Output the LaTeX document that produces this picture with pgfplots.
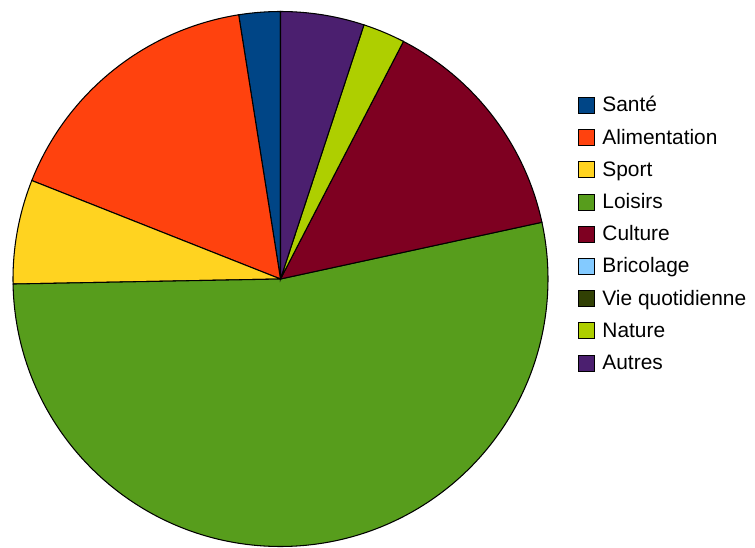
\documentclass[border=0pt]{standalone}
\usepackage{fontspec}
\setmainfont{Liberation Sans}
\usepackage{pgfplots}
\usepackage{pgfplotstable}
\pgfplotsset{compat=1.18}

\definecolor{cSante}{HTML}{004586}
\definecolor{cAlim}{HTML}{FF420E}
\definecolor{cSport}{HTML}{FFD320}
\definecolor{cLoisirs}{HTML}{579D1C}
\definecolor{cCulture}{HTML}{7E0021}
\definecolor{cBrico}{HTML}{83CAFF}
\definecolor{cVie}{HTML}{314004}
\definecolor{cNature}{HTML}{AECF00}
\definecolor{cAutres}{HTML}{4B1F6F}

% share of each category, in percent
\pgfplotstableread[col sep=comma]{
cat,val,col
Santé,2.5,cSante
Alimentation,16.5,cAlim
Sport,6.3,cSport
Loisirs,53.1,cLoisirs
Culture,14.0,cCulture
Bricolage,0,cBrico
Vie quotidienne,0,cVie
Nature,2.55,cNature
Autres,5.05,cAutres
}\piedata

\begin{document}
\begin{tikzpicture}
\begin{axis}[
    at={(0,0)}, anchor=south west,
    x=1cm, y=1cm,
    xmin=0, xmax=15.1, ymin=0, ymax=10.94,
    hide axis, clip=false,
    legend image code/.code={
        \draw[#1, line width=0.6pt] (0cm,-0.16cm) rectangle (0.32cm,0.16cm);
    },
    legend style={
        at={(axis cs:11.55,9.16)}, anchor=north west,
        draw=none, fill=none, inner sep=0pt,
        row sep=0pt, column sep=0.15cm,
        nodes={inner sep=0pt, text height=0.45cm, text depth=0.194cm,
               font=\fontsize{11.9}{13}\selectfont},
    },
    legend cell align=left,
]
\pgfplotstablegetrowsof{\piedata}
\pgfmathtruncatemacro\lastrow{\pgfplotsretval-1}
\def\angleacc{90}
\pgfplotsforeachungrouped \i in {0,...,\lastrow}{
    \pgfplotstablegetelem{\i}{val}\of\piedata \let\v\pgfplotsretval
    \pgfplotstablegetelem{\i}{col}\of\piedata \let\c\pgfplotsretval
    \pgfplotstablegetelem{\i}{cat}\of\piedata \let\n\pgfplotsretval
    \pgfmathsetmacro\a{\angleacc + 3.6*\v}
    \ifdim\v pt>0pt
        \edef\temp{\noexpand\filldraw[fill=\c, draw=black, line width=0.6pt]
            (axis cs:5.61,5.36) -- ++(\angleacc:5.35cm)
            arc[start angle=\angleacc, end angle=\a, radius=5.35cm] -- cycle;}
        \temp
    \fi
    \edef\temp{\noexpand\addlegendimage{fill=\c, draw=black}%
        \noexpand\addlegendentry{\n}}
    \temp
    \global\let\angleacc\a
}
\end{axis}
\pgfresetboundingbox
\useasboundingbox (0,0) rectangle (15.1cm,10.94cm);
\end{tikzpicture}
\end{document}
